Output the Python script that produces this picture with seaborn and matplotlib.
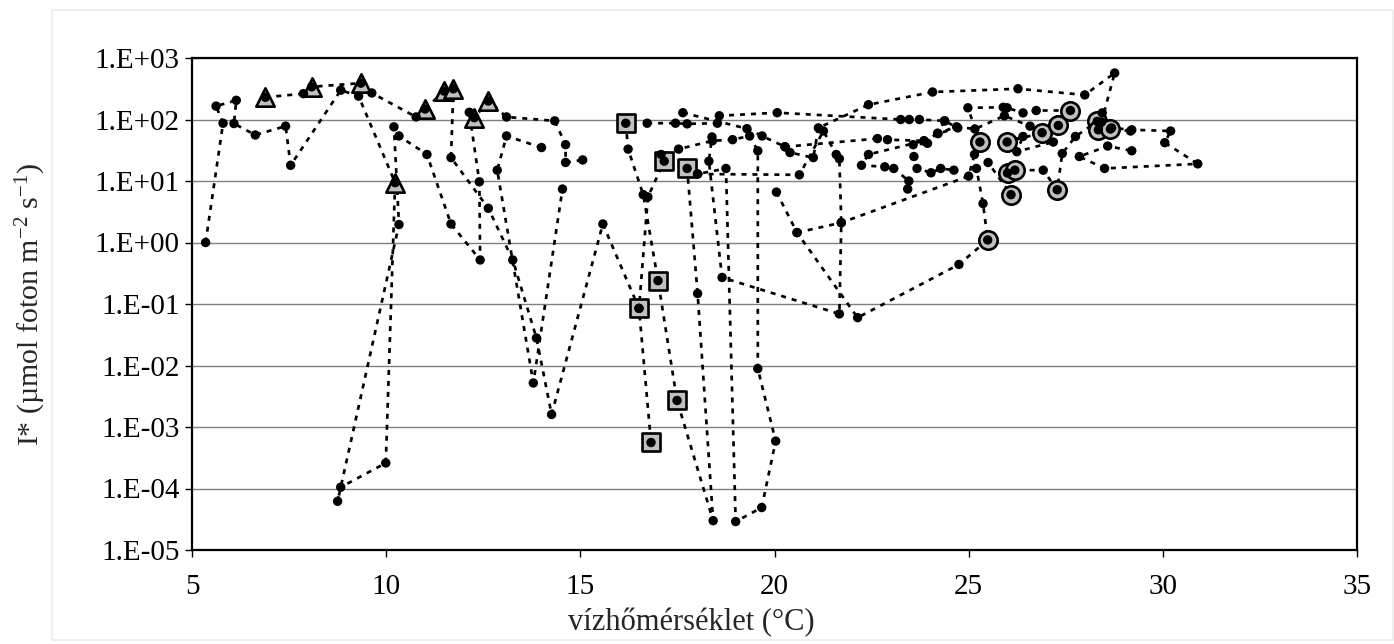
#!/usr/bin/env python3
import numpy as np
import matplotlib
matplotlib.use("Agg")
import matplotlib.pyplot as plt
from matplotlib.patches import Rectangle
from matplotlib.ticker import FuncFormatter
import seaborn as sns
import pandas as pd

# water temperature (°C) and I* (µmol foton m-2 s-1), one list pair per run,
# values in sampling order
run_a_t = [5.35, 5.80, 5.62, 6.14, 6.08, 6.63, 7.41, 7.54, 8.83, 9.29, 10.23, 9.99, 8.83, 8.75,
           10.33, 10.20, 10.33, 11.05, 11.67, 12.42, 12.40, 12.14, 12.27, 12.63, 13.10, 14.34,
           14.62, 14.62, 15.06]
run_a_i = [1.0, 87, 165, 205, 86, 56, 78, 18, 300, 240, 9.4, 2.6e-4, 1.05e-4, 6.2e-5,
           1.96, 76, 54, 27, 2.0, 0.52, 9.7, 131, 107, 200, 110, 95,
           39, 20, 22]

run_b_t = [6.89, 7.87, 8.08, 9.35, 9.63, 10.77, 11.00, 11.49, 11.73, 11.67, 12.63, 13.26,
           13.87, 14.26, 15.58, 16.51, 16.82]
run_b_i = [230, 263, 340, 390, 270, 110, 148, 290, 315, 24, 3.6, 0.52,
           0.028, 0.0016, 2.0, 0.085, 0.00056]

run_c_t = [14.00, 13.10, 12.86, 13.79, 14.54]
run_c_i = [35, 54, 15, 0.0052, 7.4]

run_d_t = [16.17, 16.23, 16.62, 17.00, 17.49, 18.42, 18.02, 17.75, 18.02, 18.75, 19.00, 19.67,
           20.03, 19.57, 19.57, 19.36, 18.92, 18.40, 17.53, 17.08, 17.16, 16.74, 16.51]
run_d_i = [87, 33, 6.0, 0.24, 0.0027, 3.0e-5, 0.148, 16, 13, 16, 2.9e-5, 4.9e-5,
           5.9e-4, 0.0089, 31, 54, 47, 45, 33, 27, 21, 5.5, 0.085]

run_e_t = [16.72, 17.45, 17.75, 18.53, 18.58, 20.07, 23.25, 23.47, 23.73, 24.38, 24.72, 24.21,
           23.85, 23.94, 23.57, 23.59, 23.67, 24.03, 24.28, 24.62]
run_e_i = [87, 87, 85, 87, 115, 129, 100, 100, 100, 95, 73, 59,
           45, 41, 39, 25, 16, 13.6, 16, 15]

run_f_t = [17.64, 19.29, 19.68, 20.27, 20.40, 21.00, 21.13, 22.42, 24.07, 26.27, 27.99, 28.76,
           28.42, 28.34, 28.68, 29.20, 30.20, 30.05, 30.90, 28.50, 27.85, 28.58, 29.20]
run_f_i = [129, 71, 54, 36, 29, 24, 73, 174, 280, 316, 251, 570,
           91, 68, 73, 68, 65, 42, 19, 16, 25, 37, 31]

run_g_t = [18.02, 20.64, 21.26, 21.59, 21.67, 21.72, 21.67, 18.65, 18.31, 18.39]
run_g_i = [13, 12.6, 65, 27, 23, 2.1, 0.069, 0.27, 21, 52]

run_h_t = [20.05, 20.58, 22.14, 24.75, 25.49, 25.37, 25.20, 25.50, 26.09, 26.00, 26.19, 26.92,
           27.28, 27.41, 27.75, 28.31, 28.44, 28.65, 29.17]
run_h_i = [6.6, 1.45, 0.06, 0.44, 1.1, 4.3, 16, 20, 6.0, 13.5, 15, 15,
           7.2, 28, 53, 93, 128, 70, 65]

run_i_t = [20.58, 21.72, 25.00, 25.15, 25.29, 24.98, 25.89, 25.99, 26.40, 26.74, 27.62, 27.31,
           26.89, 25.99, 26.40, 26.24, 27.18, 26.58, 25.92, 25.16, 24.69, 24.20, 24.38]
run_i_i = [1.45, 2.1, 12, 27, 43, 155, 158, 155, 128, 140, 140, 80,
           61, 43, 53, 30, 43, 78, 115, 70, 76, 60, 95]

run_j_t = [20.27, 22.65, 22.91, 23.85, 22.42, 22.24, 22.84, 23.07, 23.46, 23.43]
run_j_i = [36, 49, 47, 45, 27, 18, 17, 16, 10, 7.4]

# highlighted samples
tri_t = [6.89, 8.08, 9.35, 10.23, 11.00, 11.49, 11.73, 12.27, 12.63]
tri_i = [230, 340, 390, 9.4, 148, 290, 315, 107, 200]
sq_t = [16.17, 17.16, 17.75, 17.00, 16.51, 17.49, 16.82]
sq_i = [87, 21, 16, 0.24, 0.085, 0.0027, 0.00056]
circ_t = [25.49, 26.09, 27.28, 26.00, 26.19, 25.29, 25.99, 26.89, 27.31, 27.62, 28.31, 28.34, 28.65]
circ_i = [1.1, 6.0, 7.2, 13.5, 15, 43, 43, 61, 80, 140, 93, 68, 70]

XLABEL = "vízhőmérséklet (°C)"
YLABEL = "I* (µmol foton m$^{-2}$ s$^{-1}$)"


def main():
    runs = [(run_a_t, run_a_i), (run_b_t, run_b_i), (run_c_t, run_c_i), (run_d_t, run_d_i),
            (run_e_t, run_e_i), (run_f_t, run_f_i), (run_g_t, run_g_i), (run_h_t, run_h_i),
            (run_i_t, run_i_i), (run_j_t, run_j_i)]
    frames = []
    for k, (t, i) in enumerate(runs):
        frames.append(pd.DataFrame({'temp': t, 'light': i, 'run': k}))
    df = pd.concat(frames, ignore_index=True)

    sns.set_style("white")
    plt.rcParams['font.family'] = ['Liberation Serif', 'DejaVu Serif']
    plt.rcParams['mathtext.fontset'] = 'custom'
    plt.rcParams['mathtext.rm'] = 'Liberation Serif'
    plt.rcParams['mathtext.it'] = 'Liberation Serif:italic'

    fig = plt.figure(figsize=(13.94, 6.44), dpi=100)
    ax = fig.add_axes([192 / 1394, 94 / 644, 1165 / 1394, 492 / 644])
    ax.set_yscale('log')

    # faint outline of the chart area
    fig.patches.append(Rectangle((52 / 1394, 4 / 644), 1341 / 1394, 630 / 644,
                                 transform=fig.transFigure, fill=False,
                                 edgecolor='#ececec', lw=1.2, zorder=0))

    ax.set_axisbelow(True)
    ax.yaxis.grid(True, color='#808080', lw=1.0)
    ax.xaxis.grid(False)

    sns.lineplot(data=df, x='temp', y='light', units='run', estimator=None, sort=False,
                 color='black', lw=1.95, linestyle=(0, (1.85, 2.2)), ax=ax, legend=False)

    marker_kw = dict(s=175, color='#c0c0c0', edgecolor='black', linewidth=1.9, ax=ax,
                     zorder=3, legend=False)
    sns.scatterplot(x=tri_t, y=tri_i, marker='^', **marker_kw)
    sns.scatterplot(x=sq_t, y=sq_i, marker='s', **marker_kw)
    sns.scatterplot(x=circ_t, y=circ_i, marker='o', **marker_kw)

    sns.scatterplot(data=df, x='temp', y='light', s=46, color='black', edgecolor='none',
                    ax=ax, zorder=4, legend=False)

    ax.set_xlim(5, 35)
    ax.set_ylim(1e-5, 1e3)
    ax.set_xticks(range(5, 36, 5))
    ax.set_yticks([10.0 ** e for e in range(-5, 4)])
    ax.yaxis.set_minor_locator(matplotlib.ticker.NullLocator())
    ax.yaxis.set_major_formatter(FuncFormatter(
        lambda v, pos: f"1.E{int(round(np.log10(v))):+03d}"))

    for side in ax.spines.values():
        side.set_color('black')
        side.set_linewidth(1.6)
    ax.tick_params(axis='both', direction='out', length=5, width=1.0, colors='black',
                   labelsize=21)
    ax.tick_params(axis='x', pad=12, bottom=True)
    ax.tick_params(axis='y', pad=4, left=True)

    ax.set_xlabel(XLABEL, fontsize=22)
    ax.set_ylabel(YLABEL, fontsize=21.5)
    ax.xaxis.set_label_coords(0.429, -0.118)
    ax.yaxis.set_label_coords(-0.124, 0.5)

    fig.savefig("out.png", dpi=100)
    plt.close()


if __name__ == '__main__':
    main()
